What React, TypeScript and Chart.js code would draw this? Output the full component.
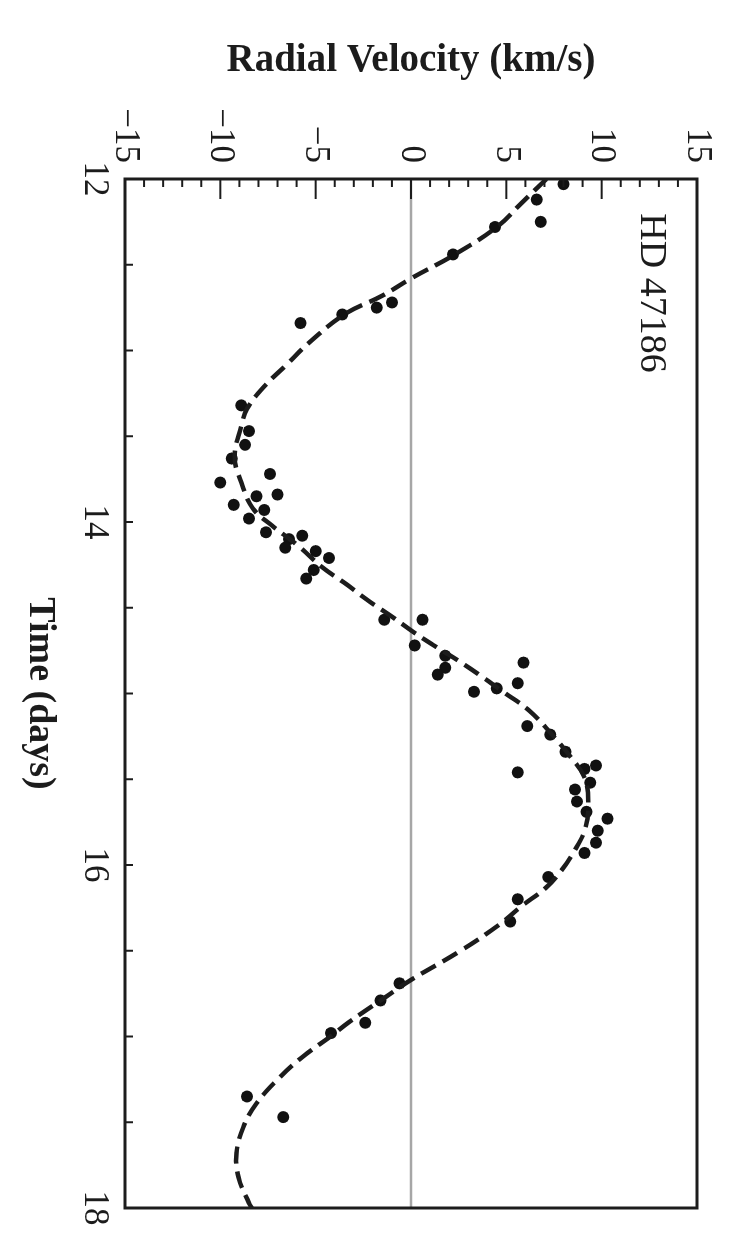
import React, { useEffect, useRef } from 'react';
import { Chart, registerables } from 'chart.js';

Chart.register(...registerables);

// Observed radial velocities (time in days, RV in km/s)
const obsTime = [
  12.03, 12.12, 12.25, 12.28, 12.44, 12.72, 12.75, 12.79, 12.84,
  13.32, 13.47, 13.55, 13.63, 13.72, 13.77, 13.84, 13.85, 13.90, 13.93, 13.98,
  14.06, 14.10, 14.08, 14.15, 14.17, 14.21, 14.28, 14.33,
  14.57, 14.57, 14.72, 14.78, 14.85, 14.89, 14.82, 14.94, 14.97, 14.99,
  15.19, 15.24, 15.34, 15.46, 15.44, 15.42, 15.52, 15.56, 15.63, 15.69, 15.73, 15.80, 15.87, 15.93,
  16.07, 16.20, 16.33, 16.69, 16.79, 16.92, 16.98, 17.35, 17.47,
];
const obsRV = [
  8.0, 6.6, 6.8, 4.4, 2.2, -1.0, -1.8, -3.6, -5.8,
  -8.9, -8.5, -8.7, -9.4, -7.4, -10.0, -7.0, -8.1, -9.3, -7.7, -8.5,
  -7.6, -6.4, -5.7, -6.6, -5.0, -4.3, -5.1, -5.5,
  -1.4, 0.6, 0.2, 1.8, 1.8, 1.4, 5.9, 5.6, 4.5, 3.3,
  6.1, 7.3, 8.1, 5.6, 9.1, 9.7, 9.4, 8.6, 8.7, 9.2, 10.3, 9.8, 9.7, 9.1,
  7.2, 5.6, 5.2, -0.6, -1.6, -2.4, -4.2, -8.6, -6.7,
];

// Orbital fit (dashed curve)
const fitTime = [
  12.0, 12.14, 12.28, 12.44, 12.58, 12.68, 12.79, 12.96, 13.08, 13.21, 13.34, 13.44,
  13.62, 13.77, 13.92, 14.02, 14.14, 14.26, 14.37, 14.45, 14.56, 14.64, 14.72, 14.81,
  14.9, 14.98, 15.1, 15.24, 15.36, 15.49, 15.64, 15.8, 15.93, 16.03, 16.13, 16.24,
  16.35, 16.5, 16.67, 16.77, 16.92, 16.99, 17.12, 17.24, 17.39, 17.53, 17.68, 17.82,
  17.97, 18.0,
];
const fitRV = [
  7.1, 5.8, 4.5, 2.3, 0.0, -1.5, -3.5, -5.4, -6.5, -7.7, -8.6, -8.9,
  -9.25, -8.9, -8.3, -7.3, -5.9, -4.7, -3.3, -2.35, -0.9, 0.1, 1.2, 2.5,
  3.7, 4.7, 6.2, 7.4, 8.3, 9.1, 9.3, 9.1, 8.5, 7.9, 7.1, 5.8,
  4.6, 2.6, 0.0, -1.33, -3.3, -4.1, -5.7, -6.9, -8.1, -8.8, -9.15, -9.05,
  -8.5, -8.35,
];

const timeLabels = [12, 14, 16, 18];
const rvLabels = [-15, -10, -5, 0, 5, 10, 15];
const starName = 'HD 47186';

const SERIF = '"Liberation Serif", "Times New Roman", serif';
const INK = '#1c1c1c';

const framePlugin = {
  id: 'frame',
  beforeDatasetsDraw(chart: any) {
    const { ctx, chartArea } = chart;
    const y = chart.scales.y;
    const py = y.getPixelForValue(0);
    ctx.save();
    ctx.strokeStyle = '#a6a6a6';
    ctx.lineWidth = 2.5;
    ctx.beginPath();
    ctx.moveTo(chartArea.left, py);
    ctx.lineTo(chartArea.right, py);
    ctx.stroke();
    ctx.restore();
  },
  afterDatasetsDraw(chart: any) {
    const { ctx, chartArea } = chart;
    const x = chart.scales.x;
    const y = chart.scales.y;
    ctx.save();
    ctx.strokeStyle = INK;
    ctx.lineWidth = 2;
    // inward ticks on time axis
    x.ticks.forEach((t: any) => {
      const px = x.getPixelForValue(t.value);
      ctx.beginPath();
      ctx.moveTo(px, chartArea.bottom);
      ctx.lineTo(px, chartArea.bottom - 8);
      ctx.stroke();
    });
    // inward ticks on RV axis
    y.ticks.forEach((t: any) => {
      const py = y.getPixelForValue(t.value);
      const len = rvLabels.includes(t.value) ? 20 : 8;
      ctx.beginPath();
      ctx.moveTo(chartArea.left, py);
      ctx.lineTo(chartArea.left + len, py);
      ctx.stroke();
    });
    // frame
    ctx.lineWidth = 3;
    ctx.strokeRect(
      chartArea.left,
      chartArea.top,
      chartArea.right - chartArea.left,
      chartArea.bottom - chartArea.top
    );
    // star label
    ctx.fillStyle = INK;
    ctx.font = `38px ${SERIF}`;
    ctx.textAlign = 'left';
    ctx.textBaseline = 'middle';
    ctx.fillText(starName, x.getPixelForValue(12.2), y.getPixelForValue(12.6));
    ctx.restore();
  },
};

const fmtRV = (v: number) => (v < 0 ? '\u2212' + Math.abs(v) : String(v));

export default function App() {
  const canvasRef = useRef<HTMLCanvasElement | null>(null);

  useEffect(() => {
    if (!canvasRef.current) return;
    const chart = new Chart(canvasRef.current, {
      type: 'scatter',
      data: {
        datasets: [
          {
            type: 'line',
            label: 'fit',
            data: fitTime.map((t, i) => ({ x: t, y: fitRV[i] })),
            borderColor: INK,
            borderWidth: 4.5,
            borderDash: [17, 8],
            pointRadius: 0,
            tension: 0.4,
            fill: false,
          } as any,
          {
            type: 'scatter',
            label: 'obs',
            data: obsTime.map((t, i) => ({ x: t, y: obsRV[i] })),
            backgroundColor: '#111',
            borderColor: '#111',
            pointRadius: 6,
            pointBorderWidth: 0,
          },
        ],
      },
      options: {
        animation: false,
        responsive: false,
        maintainAspectRatio: false,
        layout: { padding: { top: 33, right: 34, left: 0, bottom: 0 } },
        plugins: {
          legend: { display: false },
          tooltip: { enabled: false },
        },
        scales: {
          x: {
            type: 'linear',
            min: 12,
            max: 18,
            position: 'bottom',
            grid: { display: false, drawTicks: false },
            border: { display: false },
            ticks: {
              stepSize: 0.5,
              autoSkip: false,
              maxRotation: 0,
              minRotation: 0,
              padding: 10,
              color: INK,
              font: { family: SERIF, size: 35 },
              callback: (v: any) => (timeLabels.includes(Number(v)) ? String(v) : ''),
            },
            title: {
              display: true,
              text: 'Time (days)',
              color: INK,
              font: { family: SERIF, size: 38, weight: 'bold' },
              padding: { top: 0, bottom: 17 },
            },
            afterFit: (s: any) => {
              s.height = 125;
            },
          },
          y: {
            type: 'linear',
            min: -15,
            max: 15,
            position: 'left',
            grid: { display: false, drawTicks: false },
            border: { display: false },
            ticks: {
              stepSize: 1,
              autoSkip: false,
              padding: 16,
              color: INK,
              font: { family: SERIF, size: 35 },
              callback: (v: any) => (rvLabels.includes(Number(v)) ? fmtRV(Number(v)) : ''),
            },
            title: {
              display: true,
              text: 'Radial Velocity (km/s)',
              color: INK,
              font: { family: SERIF, size: 39, weight: 'bold' },
              padding: { top: 38, bottom: 0 },
            },
            afterFit: (s: any) => {
              s.width = 179;
            },
          },
        },
      } as any,
      plugins: [framePlugin],
    });
    return () => chart.destroy();
  }, []);

  return (
    <div
      style={{
        position: 'fixed',
        left: 0,
        top: 0,
        width: 734,
        height: 1242,
        overflow: 'hidden',
        background: '#fff',
      }}
    >
      <div
        style={{
          position: 'absolute',
          left: 0,
          top: 0,
          width: 1242,
          height: 734,
          transformOrigin: '0 0',
          transform: 'translate(734px, 0) rotate(90deg)',
        }}
      >
        <canvas ref={canvasRef} width={1242} height={734} style={{ display: 'block' }} />
      </div>
    </div>
  );
}
